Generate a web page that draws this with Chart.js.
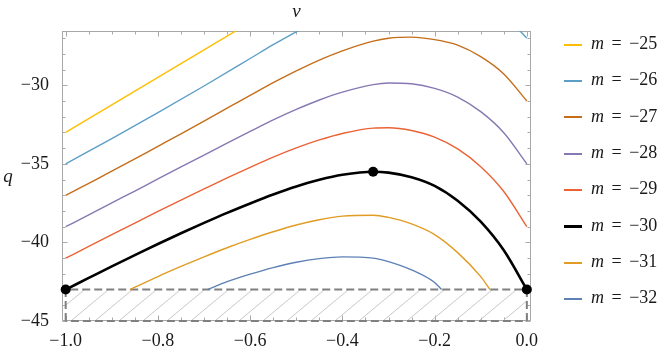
<!DOCTYPE html>
<html>
<head>
<meta charset="utf-8">
<script src="https://cdn.jsdelivr.net/npm/chart.js@4.4.1/dist/chart.umd.min.js"></script>
<style>
  html, body { margin: 0; padding: 0; background: #fff; }
  #wrap { position: relative; width: 671px; height: 348px; }
  #legend { position: absolute; left: 0; top: 0; font-family: "Liberation Serif", serif; font-size: 18px; color: #1a1a1a; }
  .item { position: absolute; left: 564px; height: 20px; line-height: 20px; white-space: nowrap; word-spacing: 3px; }
  .swatch { display: inline-block; width: 18px; vertical-align: middle; margin-right: 9px; }
</style>
</head>
<body>
<div id="wrap">
  <canvas id="chart" width="671" height="348"></canvas>
  <div id="legend"></div>
</div>
<script>
// valeurs
const mValues = [-25, -26, -27, -28, -29, -30, -31, -32];

const vM25 = [-1, -0.9, -0.8, -0.7, -0.6];
const qM25 = [-33, -31.25, -29.5, -27.75, -26.0];

const vM26 = [-1, -0.9, -0.8, -0.7, -0.6, -0.55, -0.5, -0.45, -0.3, -0.1, -0.05, 0];
const qM26 = [-35, -33.4, -31.75, -30.05, -28.3, -27.42, -26.6, -25.86, null, -24.68, -25.54, -27];

const vM27 = [-1, -0.95, -0.9, -0.85, -0.8, -0.75, -0.7, -0.65, -0.6, -0.55, -0.5, -0.45, -0.4, -0.333, -0.3, -0.25, -0.2, -0.15, -0.1, -0.05, 0];
const qM27 = [-37, -36.25, -35.46, -34.69, -33.89, -33.09, -32.28, -31.46, -30.65, -29.84, -29.09, -28.4, -27.81, -27.19, -27.01, -26.94, -27.1, -27.45, -28.18, -29.28, -31];

const vM28 = [-1, -0.95, -0.9, -0.85, -0.8, -0.75, -0.7, -0.65, -0.6, -0.55, -0.5, -0.45, -0.4, -0.333, -0.3, -0.25, -0.2, -0.15, -0.1, -0.05, 0];
const qM28 = [-39, -38.25, -37.48, -36.73, -35.96, -35.2, -34.44, -33.68, -32.94, -32.21, -31.54, -30.94, -30.44, -29.96, -29.86, -29.91, -30.2, -30.75, -31.68, -33.02, -35];

const vM29 = [-1, -0.95, -0.9, -0.85, -0.8, -0.75, -0.7, -0.65, -0.6, -0.55, -0.5, -0.45, -0.4, -0.333, -0.3, -0.25, -0.2, -0.15, -0.1, -0.05, 0];
const qM29 = [-41, -40.26, -39.5, -38.77, -38.03, -37.31, -36.6, -35.9, -35.23, -34.58, -33.99, -33.48, -33.07, -32.73, -32.71, -32.88, -33.3, -34.05, -35.18, -36.76, -39];

const vM30 = [-1, -0.95, -0.9, -0.85, -0.8, -0.75, -0.7, -0.65, -0.6, -0.55, -0.5, -0.45, -0.4, -0.333, -0.3, -0.25, -0.2, -0.15, -0.1, -0.05, 0];
const qM30 = [-43, -42.26, -41.52, -40.81, -40.1, -39.42, -38.76, -38.12, -37.52, -36.95, -36.44, -36.02, -35.7, -35.5, -35.56, -35.85, -36.4, -37.35, -38.68, -40.5, -43];

const vM31 = [-0.861, -0.85, -0.8, -0.75, -0.7, -0.65, -0.6, -0.55, -0.5, -0.45, -0.4, -0.333, -0.3, -0.25, -0.2, -0.15, -0.1, -0.08];
const qM31 = [-43, -42.85, -42.17, -41.53, -40.92, -40.34, -39.81, -39.32, -38.89, -38.56, -38.33, -38.27, -38.41, -38.82, -39.5, -40.65, -42.18, -43];

const vM32 = [-0.692, -0.65, -0.6, -0.55, -0.5, -0.45, -0.4, -0.333, -0.3, -0.25, -0.2, -0.185];
const qM32 = [-43, -42.5, -42.02, -41.6, -41.26, -41.03, -40.92, -41.0, -41.22, -41.75, -42.55, -43];

// points marqués sur la courbe m = -30
const vDots = [-1, -1 / 3, 0];
const qDots = [-43, -35.5, -43];

// zone hachurée (rectangle)
const vBox = [-1, -1, 0, 0, -1];
const qBox = [-45, -43, -43, -45, -45];

const xTicks = [-1, -0.8, -0.6, -0.4, -0.2, 0];
const yTicks = [-45, -40, -35, -30];

const curves = [[vM25, qM25], [vM26, qM26], [vM27, qM27], [vM28, qM28],
                [vM29, qM29], [vM30, qM30], [vM31, qM31], [vM32, qM32]];
const colors = ['#ffbf00', '#5d9ec7', '#c56e1a', '#8778b3', '#eb6235', '#000000', '#e19c24', '#5e81b5'];

const toPoints = (xs, ys) => xs.map((x, i) => ({ x: x, y: ys[i] }));
const minus = s => s.replace('-', '\u2212');

function hatchPattern() {
    const c = document.createElement('canvas');
    c.width = 24; c.height = 20;
    const g = c.getContext('2d');
    g.strokeStyle = '#c8c8c8';
    g.lineWidth = 1;
    g.beginPath();
    [-24, 0, 24].forEach(function(dx) {
        g.moveTo(dx, 20);
        g.lineTo(dx + 24, 0);
    });
    g.stroke();
    return g.createPattern(c, 'repeat');
}

// cadre + graduations vers l'intérieur + titres des axes
const framePlugin = {
    id: 'frame',
    beforeDatasetsDraw(chart) {
        const ctx = chart.ctx;
        const a = chart.chartArea;
        const x = chart.scales.x, y = chart.scales.y;
        ctx.save();
        ctx.strokeStyle = '#a8a8a8';
        ctx.lineWidth = 1;
        const L = Math.round(a.left) + 0.5, R = Math.round(a.right) - 0.5;
        const T = Math.round(a.top) + 0.5, B = Math.round(a.bottom) - 0.5;
        ctx.strokeRect(L, T, R - L, B - T);
        ctx.beginPath();
        for (let i = 0; i <= 20; i++) {
            const px = Math.round(x.getPixelForValue(-1 + i * 0.05)) + 0.5;
            const len = i % 4 === 0 ? 5 : 3;
            ctx.moveTo(px, B); ctx.lineTo(px, B - len);
            ctx.moveTo(px, T); ctx.lineTo(px, T + len);
        }
        for (let q = -45; q <= -27; q++) {
            const py = Math.round(y.getPixelForValue(q)) + 0.5;
            const len = q % 5 === 0 ? 5 : 3;
            ctx.moveTo(L, py); ctx.lineTo(L + len, py);
            ctx.moveTo(R, py); ctx.lineTo(R - len, py);
        }
        ctx.stroke();
        ctx.fillStyle = '#1a1a1a';
        ctx.font = 'italic 19px "Liberation Serif", serif';
        ctx.textAlign = 'center';
        ctx.textBaseline = 'middle';
        ctx.fillText('v', (a.left + a.right) / 2, 12);
        ctx.fillText('q', 8, 177);
        ctx.restore();
    }
};

const datasets = curves.map(function(c, i) {
    return {
        data: toPoints(c[0], c[1]),
        borderColor: colors[i],
        borderWidth: mValues[i] === -30 ? 2.6 : 1.4,
        pointRadius: 0,
        fill: false,
        cubicInterpolationMode: 'monotone',
        spanGaps: false,
        clip: 0,
        order: 2
    };
});

datasets.push({
    data: toPoints(vDots, qDots),
    showLine: false,
    pointRadius: 5,
    pointBackgroundColor: '#000',
    pointBorderWidth: 0,
    clip: false,
    order: 0
});

datasets.push({
    data: toPoints(vBox, qBox),
    borderColor: '#808080',
    borderWidth: 2,
    borderDash: [8, 4],
    backgroundColor: hatchPattern(),
    fill: 'shape',
    tension: 0,
    pointRadius: 0,
    clip: false,
    order: 5
});

new Chart(document.getElementById('chart'), {
    type: 'line',
    data: { datasets: datasets },
    options: {
        responsive: false,
        animation: false,
        devicePixelRatio: 1,
        layout: { padding: { top: 31, right: 140, left: 0, bottom: 0 } },
        plugins: { legend: { display: false }, tooltip: { enabled: false } },
        scales: {
            x: {
                type: 'linear',
                min: -1.008,
                max: 0.009,
                afterBuildTicks: s => { s.ticks = xTicks.map(v => ({ value: v })); },
                afterFit: s => { s.height = 27; },
                grid: { display: false },
                border: { display: false },
                ticks: {
                    padding: 1,
                    color: '#1a1a1a',
                    font: { family: '"Liberation Serif", serif', size: 18 },
                    maxRotation: 0,
                    callback: v => minus(Math.abs(v) < 1e-9 ? '0.0' : v.toFixed(1))
                }
            },
            y: {
                type: 'linear',
                min: -45,
                max: -26.55,
                afterBuildTicks: s => { s.ticks = yTicks.map(v => ({ value: v })); },
                afterFit: s => { s.width = 62; },
                grid: { display: false },
                border: { display: false },
                ticks: {
                    padding: 5,
                    color: '#1a1a1a',
                    font: { family: '"Liberation Serif", serif', size: 18 },
                    callback: v => minus(String(v))
                }
            }
        }
    },
    plugins: [framePlugin]
});

// légende
const legend = document.getElementById('legend');
mValues.forEach(function(m, i) {
    const item = document.createElement('div');
    item.className = 'item';
    item.style.top = (33 + i * 36.3) + 'px';
    const sw = document.createElement('span');
    sw.className = 'swatch';
    sw.style.height = (m === -30 ? 3 : 2) + 'px';
    sw.style.background = colors[i];
    item.appendChild(sw);
    const t = document.createElement('span');
    t.innerHTML = '<i>m</i> = ' + minus(String(m));
    item.appendChild(t);
    legend.appendChild(item);
});
</script>
</body>
</html>
